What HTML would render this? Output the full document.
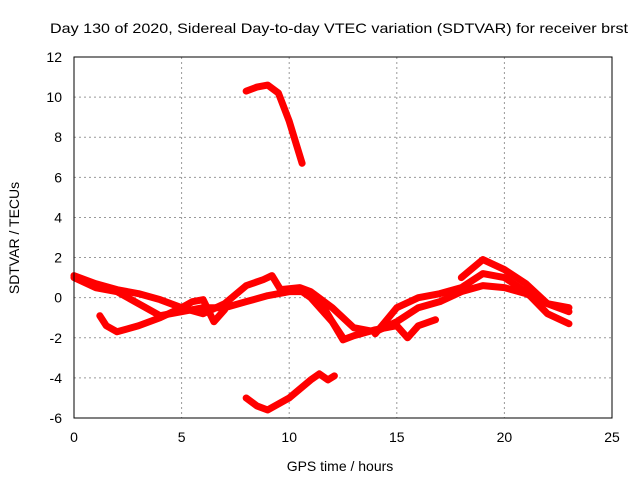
<!DOCTYPE html>
<html><head><meta charset="utf-8"><style>
body{margin:0;background:#fff;}
svg{display:block;font-family:"Liberation Sans",sans-serif;}
</style></head><body>
<svg id="chart" width="640" height="480">
<text x="339" y="33" font-size="14" text-anchor="middle" textLength="578" lengthAdjust="spacingAndGlyphs">Day 130 of 2020, Sidereal Day-to-day VTEC variation (SDTVAR) for receiver brst</text>
<text x="340" y="471" font-size="14" text-anchor="middle">GPS time / hours</text>
<text x="19" y="238" font-size="14" text-anchor="middle" transform="rotate(-90 19 238)">SDTVAR / TECUs</text>
<g id="grid"></g><g id="ticks"></g><g id="series"></g>
<rect x="74" y="57" width="538" height="361" fill="none" stroke="#000"/>
</svg>
<script>
const xTicks=[0,5,10,15,20,25];
const yTicks=[-6,-4,-2,0,2,4,6,8,10,12];
const trackA=[[0,1.1],[1,0.7],[2,0.4],[3,0.2],[4,-0.1],[5,-0.5],[6,-0.8],[7,-0.3],[8,0.6],[8.8,0.9],[9.2,1.1],[9.6,0.4],[10.5,0.5],[11,0.3],[12,-0.5],[13,-1.5],[14,-1.7],[15,-1.2],[16,-0.5],[17,-0.2],[18,0.3],[19,0.6],[20,0.5],[21,0.2],[22,-0.3],[23,-0.5]];
const trackB=[[0,1.0],[1,0.5],[2,0.3],[3,-0.3],[4,-0.9],[5,-0.7],[6,-0.5],[7,-0.5],[8,-0.2],[9,0.1],[10,0.3],[10.6,0.3],[11,0],[12,-1.2],[12.5,-2.1],[13,-1.9],[14,-1.6],[15,-1.4],[15.5,-2],[16,-1.4],[16.8,-1.1]];
const trackC=[[1.2,-0.9],[1.5,-1.4],[2,-1.7],[3,-1.4],[4,-1.0],[5,-0.5],[5.5,-0.2],[6,-0.1],[6.5,-1.2],[7,-0.6]];
const trackD=[[18,1.0],[19,1.9],[20,1.4],[21,0.7],[22,-0.3],[23,-0.7]];
const trackE=[[14,-1.8],[15,-0.5],[16,0],[17,0.2],[18,0.5],[19,1.2],[20,1.0],[21,0.3],[22,-0.8],[23,-1.3]];
const trackF=[[10.8,0.3],[11.5,-0.3],[12,-1.2],[12.5,-2.0]];
const arcHigh=[[8,10.3],[8.5,10.5],[9,10.6],[9.5,10.2],[10,8.8],[10.6,6.7]];
const arcLow=[[8,-5.0],[8.5,-5.4],[9,-5.6],[10,-5.0],[11,-4.1],[11.4,-3.8],[11.8,-4.1],[12.1,-3.9]];
const NS="http://www.w3.org/2000/svg";
const X=v=>74+v*538/25, Y=v=>418-(v+6)*361/18;
const g=document.getElementById('grid'),t=document.getElementById('ticks'),s=document.getElementById('series');
function mk(tag,a,p){const e=document.createElementNS(NS,tag);for(const k in a)e.setAttribute(k,a[k]);p.appendChild(e);return e;}
xTicks.forEach(v=>{
 if(v>0&&v<25){const l=mk('line',{x1:X(v),x2:X(v),y1:57,y2:418,stroke:'#999','stroke-dasharray':'2,3'},g);
 
 }
 const tx=mk('text',{x:X(v),y:442,'font-size':14,'text-anchor':'middle'},t);tx.textContent=v;
 
 
});
yTicks.forEach(v=>{
 if(v>-6&&v<12){const l=mk('line',{x1:74,x2:612,y1:Y(v),y2:Y(v),stroke:'#999','stroke-dasharray':'2,3'},g);
 
 }
 const tx=mk('text',{x:62,y:Y(v)+5,'font-size':14,'text-anchor':'end'},t);tx.textContent=v;
 
 
});
[trackA,trackB,trackC,trackD,trackE,trackF,arcHigh,arcLow].forEach((tr,i)=>{
 const p=mk('polyline',{points:tr.map(d=>X(d[0])+','+Y(d[1])).join(' '),fill:'none',stroke:'#f00','stroke-width':7,'stroke-linejoin':'round','stroke-linecap':'round'},s);
 
 
});
</script>
</body></html>
